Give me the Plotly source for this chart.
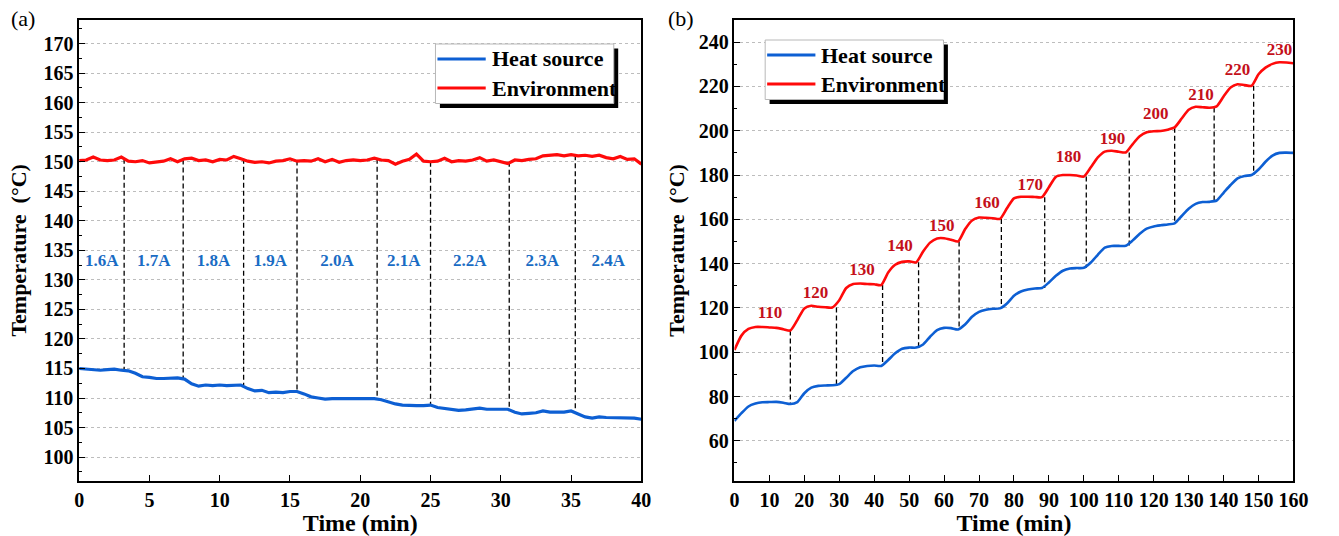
import plotly.graph_objects as go

# ---------------- Panel (a) data ----------------
time_a = [i * 0.5 for i in range(81)]
heat_a = [115.0, 114.9, 114.8, 114.7, 114.8, 114.9, 114.7, 114.6, 114.2, 113.6,
          113.5, 113.3, 113.3, 113.3, 113.4, 113.2, 112.4, 112.0, 112.2, 112.1,
          112.2, 112.1, 112.2, 112.2, 111.6, 111.2, 111.3, 110.9, 111.0, 110.9,
          111.1, 111.1, 110.7, 110.2, 110.0, 109.8, 109.9, 109.9, 109.8, 109.9,
          109.9, 109.8, 109.9, 109.7, 109.3, 109.0, 108.8, 108.7, 108.7, 108.7,
          108.8, 108.4, 108.2, 108.1, 107.9, 108.0, 108.1, 108.3, 108.1, 108.1,
          108.2, 108.1, 107.6, 107.3, 107.4, 107.5, 107.8, 107.6, 107.6, 107.6,
          107.8, 107.3, 106.8, 106.6, 106.8, 106.7, 106.7, 106.7, 106.7, 106.6,
          106.4]
env_a = [150.2, 150.3, 150.8, 150.3, 150.2, 150.3, 150.8, 150.1, 150.0, 150.2,
         149.8, 149.9, 150.1, 150.5, 150.0, 150.5, 150.6, 150.2, 150.3, 150.0,
         150.4, 150.3, 150.9, 150.5, 150.1, 149.9, 150.0, 149.8, 150.1, 150.2,
         150.5, 150.1, 150.2, 150.1, 150.5, 150.0, 150.4, 149.9, 150.2, 150.3,
         150.2, 150.3, 150.6, 150.3, 150.2, 149.6, 150.1, 150.4, 151.3, 150.1,
         150.0, 150.1, 150.6, 150.0, 150.2, 150.1, 150.3, 150.7, 150.1, 150.3,
         150.0, 149.7, 150.3, 150.2, 150.4, 150.5, 151.0, 151.1, 151.2, 151.0,
         151.2, 151.0, 151.1, 150.9, 151.1, 150.7, 150.5, 150.9, 150.4, 150.5,
         149.6]
switch_a = [3.2, 7.4, 11.7, 15.5, 21.2, 25.0, 30.6, 35.3]
switch_top_a = [150.5, 150.4, 150.5, 150.2, 150.5, 150.0, 150.0, 151.1]
switch_bot_a = [114.6, 113.3, 112.2, 111.1, 110.0, 108.8, 108.1, 107.8]
current_labels = ["1.6A", "1.7A", "1.8A", "1.9A", "2.0A", "2.1A", "2.2A", "2.3A", "2.4A"]
current_label_y = 133
xlim_a = [0, 40]

# ---------------- Panel (b) data ----------------
time_b = [i * 2 for i in range(81)]
env_b = [101.0, 107.5, 110.5, 111.4, 111.4, 111.2, 111.0, 110.4, 109.8, 114.5,
         119.8, 121.0, 120.5, 120.3, 120.2, 123.5, 129.0, 130.8, 131.0, 130.8,
         130.7, 130.3, 136.0, 139.5, 140.8, 141.0, 140.6, 145.5, 149.5, 151.4,
         151.5, 150.8, 150.0, 155.5, 159.5, 160.8, 160.7, 160.5, 160.2, 165.0,
         169.5, 170.2, 170.2, 170.1, 170.0, 174.5, 179.2, 180.0, 180.0, 179.8,
         179.3, 183.5, 188.0, 190.6, 191.0, 190.5, 190.2, 194.0, 197.5, 199.3,
         199.8, 199.9, 200.5, 201.5, 205.5, 209.5, 210.8, 210.6, 210.4, 211.0,
         215.5, 219.5, 221.0, 220.6, 220.3, 225.5, 228.5, 230.2, 230.9, 230.8,
         230.5]
heat_b = [69.0, 72.5, 75.5, 76.8, 77.4, 77.5, 77.6, 77.2, 76.6, 77.5,
          81.5, 84.0, 84.8, 85.0, 85.1, 85.6, 88.5, 91.5, 93.2, 93.8,
          94.0, 93.8, 96.5, 99.5, 101.6, 102.1, 102.1, 103.5, 107.0, 110.0,
          111.0, 110.9, 110.3, 112.5, 116.0, 118.2, 119.2, 119.6, 119.8, 122.0,
          125.5, 127.4, 128.3, 128.8, 129.0, 131.5, 134.5, 136.8, 137.8, 138.0,
          138.1, 140.5, 144.0, 147.2, 148.0, 148.0, 148.1, 150.5, 153.5, 155.8,
          156.8, 157.3, 157.7, 158.2, 161.5, 164.8, 167.0, 167.8, 167.9, 168.5,
          172.0, 175.5, 178.5, 179.6, 180.0, 182.5, 186.0, 188.8, 190.0, 190.1,
          190.0]
switch_b = [16, 29.2, 42.4, 52.7, 64.3, 76.4, 88.8, 100.7, 113, 126, 137.3, 148.6]
switch_top_b = [109.8, 120.2, 130.3, 140.6, 150.0, 160.2, 170.0, 179.3, 190.2, 201.3, 210.5, 220.3]
switch_bot_b = [76.6, 85.3, 93.8, 102.1, 110.4, 119.8, 129.0, 138.1, 148.2, 158.2, 168.3, 180.0]
setpoint_labels = ["110", "120", "130", "140", "150", "160", "170", "180", "190", "200", "210", "220", "230"]
setpoint_x = [10.2, 23.2, 36.5, 47.4, 59.3, 72.3, 84.7, 95.6, 108.2, 120.6, 133.5, 144, 156]
setpoint_y = [117.5, 126.5, 136.7, 147.5, 156.8, 167, 175.3, 187.8, 196, 207.2, 215.6, 227.2, 236.2]

series_names = ["Heat source", "Environment"]

# ---------------- Style ----------------
W, H = 1339, 536
SERIF = "Times New Roman, Liberation Serif, serif"
BLUE = "#0d5fd3"
RED = "#ff0a0a"
LBL_BLUE = "#1a6cc4"
LBL_RED = "#c4101a"
COLORS = [BLUE, RED]


def vlines(xs, tops, bots):
    X, Y = [], []
    for x, t, b in zip(xs, tops, bots):
        X += [x, x, None]
        Y += [t, b, None]
    return X, Y


def px(xp):
    return xp / W


def py(yp):
    return 1 - yp / H


fig = go.Figure()

# panel (a)
xa, ya = vlines(switch_a, switch_top_a, switch_bot_a)
fig.add_trace(go.Scatter(x=xa, y=ya, mode="lines", showlegend=False, hoverinfo="skip",
                         line=dict(color="black", width=1.3, dash="5px,3px"),
                         xaxis="x", yaxis="y"))
fig.add_trace(go.Scatter(x=time_a, y=heat_a, mode="lines", name=series_names[0],
                         line=dict(color=BLUE, width=3.2), xaxis="x", yaxis="y"))
fig.add_trace(go.Scatter(x=time_a, y=env_a, mode="lines", name=series_names[1],
                         line=dict(color=RED, width=3.2), xaxis="x", yaxis="y"))
bounds = [xlim_a[0]] + switch_a + [xlim_a[1]]
mid_a = [(bounds[i] + bounds[i + 1]) / 2 for i in range(len(current_labels))]
fig.add_trace(go.Scatter(x=mid_a, y=[current_label_y] * len(current_labels), mode="text",
                         text=current_labels, showlegend=False, hoverinfo="skip",
                         textfont=dict(family=SERIF, size=17, color=LBL_BLUE, weight="bold"),
                         xaxis="x", yaxis="y"))

# panel (b)
xb, yb = vlines(switch_b, switch_top_b, switch_bot_b)
fig.add_trace(go.Scatter(x=xb, y=yb, mode="lines", showlegend=False, hoverinfo="skip",
                         line=dict(color="black", width=1.3, dash="5px,3px"),
                         xaxis="x2", yaxis="y2"))
fig.add_trace(go.Scatter(x=time_b, y=heat_b, mode="lines", name=series_names[0],
                         line=dict(color=BLUE, width=2.6, shape="spline", smoothing=0.6),
                         xaxis="x2", yaxis="y2"))
fig.add_trace(go.Scatter(x=time_b, y=env_b, mode="lines", name=series_names[1],
                         line=dict(color=RED, width=2.6, shape="spline", smoothing=0.6),
                         xaxis="x2", yaxis="y2"))
fig.add_trace(go.Scatter(x=setpoint_x, y=setpoint_y, mode="text", text=setpoint_labels,
                         showlegend=False, hoverinfo="skip",
                         textfont=dict(family=SERIF, size=17, color=LBL_RED, weight="bold"),
                         xaxis="x2", yaxis="y2"))

axis_common = dict(showline=True, linecolor="black", linewidth=1.6, mirror=True,
                   ticks="inside", ticklen=6, tickwidth=1.3, tickcolor="black",
                   tickfont=dict(family=SERIF, size=20, color="black", weight="bold"),
                   zeroline=False)
xtitle_font = dict(family=SERIF, size=24, color="black", weight="bold")
ytitle_font = dict(family=SERIF, size=22, color="black", weight="bold")

top_frac = py(20)
bot_frac = py(480.7)

# ---- hand-drawn legends with drop shadow ----
shapes = []
annotations = []
LEG_W, LEG_H, SHADOW = 181, 59.5, 4.5
for left, top in [(437, 44), (771.7, 40)]:
    shapes.append(dict(type="rect", xref="paper", yref="paper", layer="above",
                       x0=px(left + SHADOW), x1=px(left + LEG_W + SHADOW),
                       y0=py(top + LEG_H + SHADOW), y1=py(top + SHADOW),
                       fillcolor="black", line=dict(width=0)))
    shapes.append(dict(type="rect", xref="paper", yref="paper", layer="above",
                       x0=px(left), x1=px(left + LEG_W), y0=py(top + LEG_H), y1=py(top),
                       fillcolor="white", line=dict(color="#b8b8b8", width=1)))
    for k, (name, col) in enumerate(zip(series_names, COLORS)):
        yrow = top + 15 + 29 * k
        shapes.append(dict(type="line", xref="paper", yref="paper", layer="above",
                           x0=px(left + 2), x1=px(left + 51), y0=py(yrow), y1=py(yrow),
                           line=dict(color=col, width=3)))
        annotations.append(dict(text=name, x=px(left + 55), y=py(yrow), xref="paper", yref="paper",
                                xanchor="left", yanchor="middle", showarrow=False,
                                font=dict(family=SERIF, size=22, color="black", weight="bold")))

annotations += [
    dict(text="(a)", x=px(4), y=py(19), xref="paper", yref="paper", xanchor="left",
         yanchor="middle", showarrow=False, font=dict(family=SERIF, size=22, color="black")),
    dict(text="(b)", x=px(671), y=py(19), xref="paper", yref="paper", xanchor="left",
         yanchor="middle", showarrow=False, font=dict(family=SERIF, size=22, color="black")),
]

fig.update_layout(
    width=W, height=H, margin=dict(l=0, r=0, t=0, b=0),
    paper_bgcolor="white", plot_bgcolor="white", showlegend=False,
    xaxis=dict(domain=[px(75.3), px(646)], range=xlim_a, dtick=5, tick0=0, showgrid=False,
               title=dict(text="Time (min)", standoff=2, font=xtitle_font), anchor="y", **axis_common),
    yaxis=dict(domain=[bot_frac, top_frac], range=[96, 174], dtick=5, tick0=100,
               showgrid=True, gridcolor="#bdbdbd", griddash="dot", gridwidth=1,
               minor=dict(dtick=2.5, tick0=100, ticks="inside", ticklen=3, tickcolor="black", showgrid=False),
               title=dict(text="Temperature  (°C)", standoff=11, font=ytitle_font), anchor="x", **axis_common),
    xaxis2=dict(domain=[px(740.5), px(1308)], range=[0, 160], dtick=10, tick0=0, showgrid=False,
                title=dict(text="Time (min)", standoff=2, font=xtitle_font), anchor="y2", **axis_common),
    yaxis2=dict(domain=[bot_frac, top_frac], range=[42, 250], dtick=20, tick0=0,
                showgrid=True, gridcolor="#bdbdbd", griddash="dot", gridwidth=1,
                minor=dict(dtick=10, tick0=0, ticks="inside", ticklen=3, tickcolor="black", showgrid=False),
                title=dict(text="Temperature  (°C)", standoff=8, font=ytitle_font), anchor="x2", **axis_common),
    annotations=annotations,
    shapes=shapes,
)

fig.write_html("out.html")
